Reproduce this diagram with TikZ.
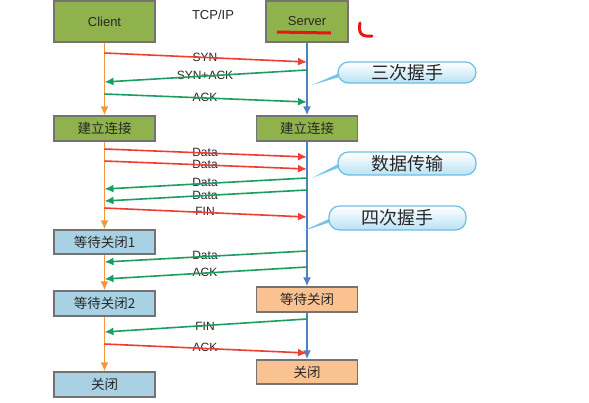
\documentclass[tikz,border=0pt]{standalone}
\usepackage{fontspec}
\setmainfont{Liberation Sans}
\newfontfamily\cjk{Noto Sans CJK SC}
\usetikzlibrary{arrows.meta}
\definecolor{gfill}{RGB}{143,178,76}
\definecolor{bfill}{RGB}{168,210,227}
\definecolor{ofill}{RGB}{250,193,145}
\definecolor{boxline}{RGB}{115,115,115}
\definecolor{lorange}{RGB}{244,150,60}
\definecolor{lblue}{RGB}{79,129,189}
\definecolor{ared}{RGB}{238,62,52}
\definecolor{agreen}{RGB}{28,158,98}
\definecolor{txt}{RGB}{40,40,40}
\definecolor{cborder}{RGB}{110,190,225}
\definecolor{cfill}{RGB}{185,226,245}
\definecolor{ctail}{RGB}{120,198,230}
\definecolor{redmark}{RGB}{235,20,20}
\begin{document}
\begin{tikzpicture}[x=1pt,y=-1pt,
  box/.style={draw=boxline,line width=1.2pt,minimum width=101pt,inner sep=0pt,text=txt},
  gbox/.style={box,fill=gfill},
  bbox/.style={box,fill=bfill},
  obox/.style={box,fill=ofill},
  cn/.style={font=\cjk\fontsize{13.5}{14}\selectfont},
  en/.style={font=\fontsize{13}{14}\selectfont},
  tip/.style={-{Latex[length=9pt,width=8pt]}},
  cline/.style={tip,draw=lorange,line width=1.9pt},
  sline/.style={tip,draw=lblue,line width=1.9pt},
  ra/.style={tip,draw=ared,fill=ared,line width=1.6pt},
  ga/.style={tip,draw=agreen,fill=agreen,line width=1.6pt},
  lab/.style={text=txt,font=\fontsize{12}{12}\selectfont,inner sep=0pt},
  callout/.style={draw=cborder,line width=1.2pt,top color=white,bottom color=cfill,rounded corners=10.5pt},
  ctext/.style={text=txt,font=\cjk\fontsize{18}{20}\selectfont,inner sep=0pt}
]
\useasboundingbox[fill=white] (0,0) rectangle (589,402);

% boxes
\node[gbox,en,minimum height=41pt] (client) at (104.5,21.5) {Client};
\node[gbox,en,minimum width=82pt,minimum height=41pt] (server) at (307,21.5) {Server};
\node[text=txt,font=\fontsize{13}{14}\selectfont] (tcp) at (213,15) {TCP/IP};

\node[gbox,cn,minimum height=25pt] (cest) at (104.5,128.5) {建立连接};
\node[gbox,cn,minimum height=25pt] (sest) at (307,128.5) {建立连接};
\node[bbox,cn,minimum height=24pt] (cw1) at (104.5,242) {等待关闭1};
\node[bbox,cn,minimum height=25pt] (cw2) at (104.5,303.5) {等待关闭2};
\node[bbox,cn,minimum height=25pt] (cclose) at (104.5,384.5) {关闭};
\node[obox,cn,minimum height=25pt] (swait) at (307,299.5) {等待关闭};
\node[obox,cn,minimum height=24pt] (sclose) at (307,372) {关闭};

% lifelines
\draw[cline] (client.south) -- (cest.north);
\draw[cline] (cest.south) -- (cw1.north);
\draw[cline] (cw1.south) -- (cw2.north);
\draw[cline] (cw2.south) -- (cclose.north);
\draw[sline] (server.south) -- (sest.north);
\draw[sline] (sest.south) -- (swait.north);
\draw[sline] (swait.south) -- (sclose.north);

% red annotations
\draw[draw=redmark,line width=3pt] (277,32) -- (331,33);
\draw[draw=redmark,line width=3pt,line cap=round] (360,23) .. controls (358,34) and (362,37) .. (372,36);

% message coordinates
\coordinate (m1a) at (104.5,53);  \coordinate (m1b) at (307,62);
\coordinate (m2a) at (307,70);    \coordinate (m2b) at (104.5,82);
\coordinate (m3a) at (104.5,94);  \coordinate (m3b) at (307,102);
\coordinate (m4a) at (104.5,149); \coordinate (m4b) at (307,157);
\coordinate (m5a) at (104.5,161); \coordinate (m5b) at (307,169);
\coordinate (m6a) at (307,178);   \coordinate (m6b) at (104.5,189);
\coordinate (m7a) at (307,190);   \coordinate (m7b) at (104.5,201);
\coordinate (m8a) at (104.5,208); \coordinate (m8b) at (307,217);
\coordinate (m9a) at (307,251);   \coordinate (m9b) at (104.5,262);
\coordinate (m10a) at (307,267);  \coordinate (m10b) at (104.5,279);
\coordinate (m11a) at (307,319);  \coordinate (m11b) at (104.5,332);
\coordinate (m12a) at (104.5,344);\coordinate (m12b) at (307,353);

% labels
\node[lab] (l1) at (205,57) {SYN};
\node[lab] (l2) at (205,75) {SYN+ACK};
\node[lab] (l3) at (205,97) {ACK};
\node[lab] (l4) at (205,152) {Data};
\node[lab] (l5) at (205,164) {Data};
\node[lab] (l6) at (205,182) {Data};
\node[lab] (l7) at (205,195) {Data};
\node[lab] (l8) at (205,211) {FIN};
\node[lab] (l9) at (205,255) {Data};
\node[lab] (l10) at (205,272) {ACK};
\node[lab] (l11) at (205,326) {FIN};
\node[lab] (l12) at (205,347) {ACK};

% messages
\draw[ra] (m1a) -- (m1b);
\draw[ga] (m2a) -- (m2b);
\draw[ga] (m3a) -- (m3b);
\draw[ra] (m4a) -- (m4b);
\draw[ra] (m5a) -- (m5b);
\draw[ga] (m6a) -- (m6b);
\draw[ga] (m7a) -- (m7b);
\draw[ra] (m8a) -- (m8b);
\draw[ga] (m9a) -- (m9b);
\draw[ga] (m10a) -- (m10b);
\draw[ga] (m11a) -- (m11b);
\draw[ra] (m12a) -- (m12b);

% callouts
\coordinate (t1) at (312,85);
\coordinate (t2) at (312,178);
\coordinate (t3) at (303,231);
\fill[ctail] (342,72) -- (343,76) -- (t1) -- cycle;
\fill[ctail] (342,162) -- (343,166) -- (t2) -- cycle;
\fill[ctail] (333,217) -- (334,221) -- (t3) -- cycle;
\path[callout] (338,62) rectangle (476,83);
\path[callout] (338,152) rectangle (476,175);
\path[callout] (329,206) rectangle (466,230);
\node[ctext] (c1) at (407,72.5) {三次握手};
\node[ctext] (c2) at (407,163.5) {数据传输};
\node[ctext] (c3) at (397.5,218) {四次握手};
\end{tikzpicture}
\end{document}
